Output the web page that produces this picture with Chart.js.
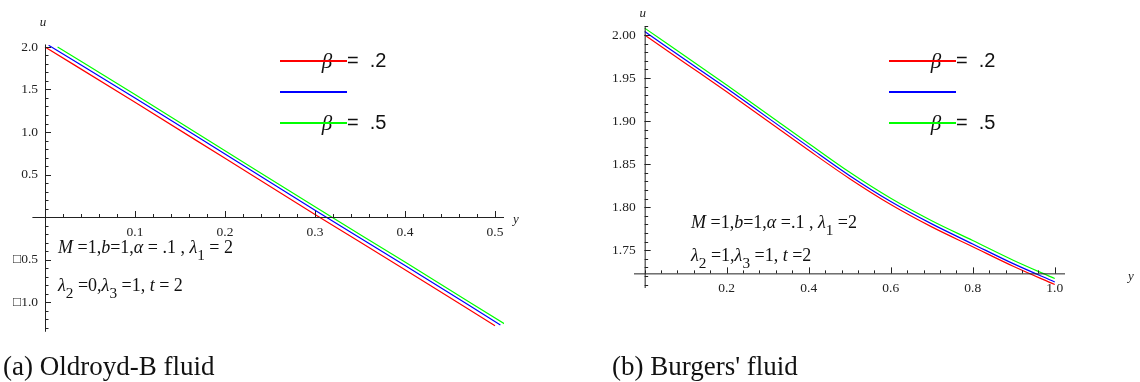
<!DOCTYPE html>
<html>
<head>
<meta charset="utf-8">
<script src="https://cdn.jsdelivr.net/npm/chart.js@4.4.1/dist/chart.umd.min.js"></script>
<style>
  body { margin: 0; background: #fff; width: 1140px; height: 382px; overflow: hidden; position: relative; font-family: "Liberation Serif", serif; }
  .panel { position: absolute; top: 0; height: 382px; }
  #left { left: 0; width: 560px; }
  #right { left: 560px; width: 580px; }
  .cap { position: absolute; top: 351px; font-size: 27px; line-height: 30px; color: #111; white-space: nowrap; }
</style>
</head>
<body>
<div class="panel" id="left"><canvas id="oldroyd" width="560" height="382"></canvas></div>
<div class="panel" id="right"><canvas id="burgers" width="580" height="382"></canvas></div>
<div class="cap" style="left:3px">(a) Oldroyd-B fluid</div>
<div class="cap" style="left:612px">(b) Burgers' fluid</div>
<script>
// (a) Oldroyd-B fluid, u against y
const oldroydRedY = [0, 0.1, 0.2, 0.3, 0.4, 0.5];
const oldroydRedU = [2.00, 1.35, 0.69, 0.03, -0.62, -1.28];
const oldroydBlueY = [0.004, 0.1, 0.2, 0.3, 0.4, 0.506];
const oldroydBlueU = [2.02, 1.40, 0.74, 0.08, -0.57, -1.27];
const oldroydGreenY = [0.014, 0.1, 0.2, 0.3, 0.4, 0.511];
const oldroydGreenU = [2.00, 1.44, 0.78, 0.12, -0.53, -1.26];
const oldroydXTicks = [0.1, 0.2, 0.3, 0.4, 0.5];
const oldroydXLabels = ['0.1', '0.2', '0.3', '0.4', '0.5'];
const oldroydUTicks = [2.0, 1.5, 1.0, 0.5, -0.5, -1.0];
const oldroydULabels = ['2.0', '1.5', '1.0', '0.5', '\u25A10.5', '\u25A11.0'];

// (b) Burgers' fluid
const burgersY = [0, 0.1, 0.2, 0.3, 0.4, 0.5, 0.6, 0.7, 0.8, 0.9, 1.0];
const burgersRedU = [2.000, 1.967, 1.934, 1.900, 1.866, 1.833, 1.803, 1.777, 1.754, 1.731, 1.710];
const burgersBlueU = [2.004, 1.971, 1.938, 1.904, 1.870, 1.8365, 1.8065, 1.7805, 1.7572, 1.734, 1.713];
const burgersGreenU = [2.008, 1.975, 1.942, 1.908, 1.874, 1.8405, 1.8103, 1.7842, 1.7612, 1.738, 1.717];
const burgersXTicks = [0.2, 0.4, 0.6, 0.8, 1.0];
const burgersXLabels = ['0.2', '0.4', '0.6', '0.8', '1.0'];
const burgersUTicks = [2.00, 1.95, 1.90, 1.85, 1.80, 1.75];
const burgersULabels = ['2.00', '1.95', '1.90', '1.85', '1.80', '1.75'];

const betaLabels = ['\u03B2 = .2', '', '\u03B2 = .5'];
const seriesColors = ['#ff0000', '#0000ff', '#00ff00'];

function pts(xs, ys) {
    return xs.map((x, i) => ({ x: x, y: ys[i] }));
}

// draw a line of text made of pieces: i = italic, sub = subscript
function richText(ctx, x, y, parts, size) {
    parts.forEach(p => {
        const s = p.sub ? size * 0.85 : size;
        ctx.font = (p.i ? 'italic ' : '') + s + 'px "Liberation Serif"';
        ctx.fillText(p.t, x, y + (p.sub ? size * 0.38 : 0));
        x += ctx.measureText(p.t).width;
    });
}

// Mathematica-like axes crossing at an origin, with ticks, legend and notes
const mathAxes = {
    id: 'mathAxes',
    afterDatasetsDraw(chart, args, o) {
        const ctx = chart.ctx;
        const sx = chart.scales.x, sy = chart.scales.y;
        const ox = sx.getPixelForValue(o.originX);
        const oy = sy.getPixelForValue(o.originY);
        ctx.save();
        ctx.strokeStyle = '#222';
        ctx.lineWidth = 1;
        ctx.beginPath();
        ctx.moveTo(sx.left, oy + 0.5); ctx.lineTo(sx.right, oy + 0.5);
        ctx.moveTo(ox + 0.5, sy.top); ctx.lineTo(ox + 0.5, sy.bottom);
        ctx.stroke();

        // minor and major ticks
        ctx.beginPath();
        for (let v = o.originX; v <= sx.max + 1e-9; v += o.xMinor) {
            const px = Math.round(sx.getPixelForValue(v)) + 0.5;
            ctx.moveTo(px, oy); ctx.lineTo(px, oy - 3);
        }
        for (let v = o.yStart; v <= sy.max + 1e-9; v += o.yMinor) {
            const py = Math.round(sy.getPixelForValue(v)) + 0.5;
            ctx.moveTo(ox, py); ctx.lineTo(ox + 3.5, py);
        }
        for (let v = o.yStart - o.yMinor; v >= sy.min - 1e-9; v -= o.yMinor) {
            const py = Math.round(sy.getPixelForValue(v)) + 0.5;
            ctx.moveTo(ox, py); ctx.lineTo(ox + 3.5, py);
        }
        o.xTicks.forEach(v => {
            const px = Math.round(sx.getPixelForValue(v)) + 0.5;
            ctx.moveTo(px, oy); ctx.lineTo(px, oy - 6);
        });
        o.yTicks.forEach(v => {
            const py = Math.round(sy.getPixelForValue(v)) + 0.5;
            ctx.moveTo(ox, py); ctx.lineTo(ox + 6, py);
        });
        ctx.stroke();

        ctx.fillStyle = '#222';
        ctx.font = '13.5px "Liberation Serif"';
        ctx.textAlign = 'center';
        ctx.textBaseline = 'middle';
        o.xTicks.forEach((v, i) => ctx.fillText(o.xLabels[i], sx.getPixelForValue(v), oy + 15));
        ctx.textAlign = 'right';
        o.yTicks.forEach((v, i) => ctx.fillText(o.yLabels[i], ox - o.yLabelGap, sy.getPixelForValue(v)));

        // axis names
        ctx.font = 'italic 13px "Liberation Serif"';
        ctx.textAlign = 'center';
        ctx.fillText(o.yName, ox - 2, o.yNameY);
        ctx.textAlign = 'left';
        ctx.fillText(o.xName, o.xNameX, oy + 3);

        // legend: line striking through the beta
        chart.data.datasets.forEach((ds, i) => {
            const ly = o.legendY + i * 31;
            if (ds.label) {
                const parts = ds.label.split(' = ');
                ctx.textAlign = 'center';
                ctx.textBaseline = 'middle';
                ctx.font = 'italic 21px "Liberation Serif"';
                ctx.fillStyle = '#111';
                ctx.fillText(parts[0], o.legendX + 47, ly + 1);
                ctx.textAlign = 'left';
                ctx.font = '20px "Liberation Sans"';
                ctx.fillText('=  ' + parts[1], o.legendX + 67, ly);
            }
            ctx.strokeStyle = ds.borderColor;
            ctx.lineWidth = 2;
            ctx.beginPath();
            ctx.moveTo(o.legendX, ly); ctx.lineTo(o.legendX + 67, ly);
            ctx.stroke();
        });

        // parameter notes
        ctx.fillStyle = '#111';
        ctx.textAlign = 'left';
        ctx.textBaseline = 'alphabetic';
        o.notes.forEach(n => richText(ctx, n.x, n.y, n.parts, 18));
        ctx.restore();
    }
};

function makeChart(id, sets, opts, scaleX, scaleY, pad) {
    return new Chart(document.getElementById(id), {
        type: 'scatter',
        data: {
            datasets: sets.map((s, i) => ({
                label: betaLabels[i],
                data: s,
                showLine: true,
                borderColor: seriesColors[i],
                borderWidth: 1.2,
                pointRadius: 0,
                cubicInterpolationMode: 'monotone'
            }))
        },
        options: {
            responsive: false,
            animation: false,
            devicePixelRatio: 1,
            layout: { padding: pad },
            scales: {
                x: { type: 'linear', min: scaleX[0], max: scaleX[1], display: false },
                y: { type: 'linear', min: scaleY[0], max: scaleY[1], display: false }
            },
            plugins: {
                legend: { display: false },
                tooltip: { enabled: false },
                mathAxes: opts
            }
        },
        plugins: [mathAxes]
    });
}

makeChart('oldroyd',
    [pts(oldroydRedY, oldroydRedU), pts(oldroydBlueY, oldroydBlueU), pts(oldroydGreenY, oldroydGreenU)],
    {
        originX: 0, originY: 0, yStart: 0, xMinor: 0.02, yMinor: 0.1,
        xTicks: oldroydXTicks, xLabels: oldroydXLabels,
        yTicks: oldroydUTicks, yLabels: oldroydULabels, yLabelGap: 7,
        yName: 'u', yNameY: 23, xName: 'y', xNameX: 513,
        legendX: 280, legendY: 61,
        notes: [
            { x: 58, y: 253, parts: [{ t: 'M', i: 1 }, { t: ' =1,' }, { t: 'b', i: 1 }, { t: '=1,' }, { t: '\u03B1', i: 1 }, { t: ' = .1 , ' }, { t: '\u03BB', i: 1 }, { t: '1', sub: 1 }, { t: ' = 2' }] },
            { x: 58, y: 291, parts: [{ t: '\u03BB', i: 1 }, { t: '2', sub: 1 }, { t: ' =0,' }, { t: '\u03BB', i: 1 }, { t: '3', sub: 1 }, { t: ' =1, ' }, { t: 't', i: 1 }, { t: ' = 2' }] }
        ]
    },
    [-0.014, 0.51], [-1.35, 2.03],
    { left: 32.4, right: 56, top: 44.45, bottom: 50.25 });

makeChart('burgers',
    [pts(burgersY, burgersRedU), pts(burgersY, burgersBlueU), pts(burgersY, burgersGreenU)],
    {
        originX: 0, originY: 1.723, yStart: 1.75, xMinor: 0.04, yMinor: 0.01,
        xTicks: burgersXTicks, xLabels: burgersXLabels,
        yTicks: burgersUTicks, yLabels: burgersULabels, yLabelGap: 9,
        yName: 'u', yNameY: 14, xName: 'y', xNameX: 568,
        legendX: 329, legendY: 61,
        notes: [
            { x: 131, y: 228, parts: [{ t: 'M', i: 1 }, { t: ' =1,' }, { t: 'b', i: 1 }, { t: '=1,' }, { t: '\u03B1', i: 1 }, { t: ' =.1 , ' }, { t: '\u03BB', i: 1 }, { t: '1', sub: 1 }, { t: ' =2' }] },
            { x: 131, y: 261, parts: [{ t: '\u03BB', i: 1 }, { t: '2', sub: 1 }, { t: ' =1,' }, { t: '\u03BB', i: 1 }, { t: '3', sub: 1 }, { t: ' =1, ' }, { t: 't', i: 1 }, { t: ' =2' }] }
        ]
    },
    [-0.026, 1.025], [1.706, 2.01],
    { left: 74, right: 75, top: 26.4, bottom: 94 });
</script>
</body>
</html>
